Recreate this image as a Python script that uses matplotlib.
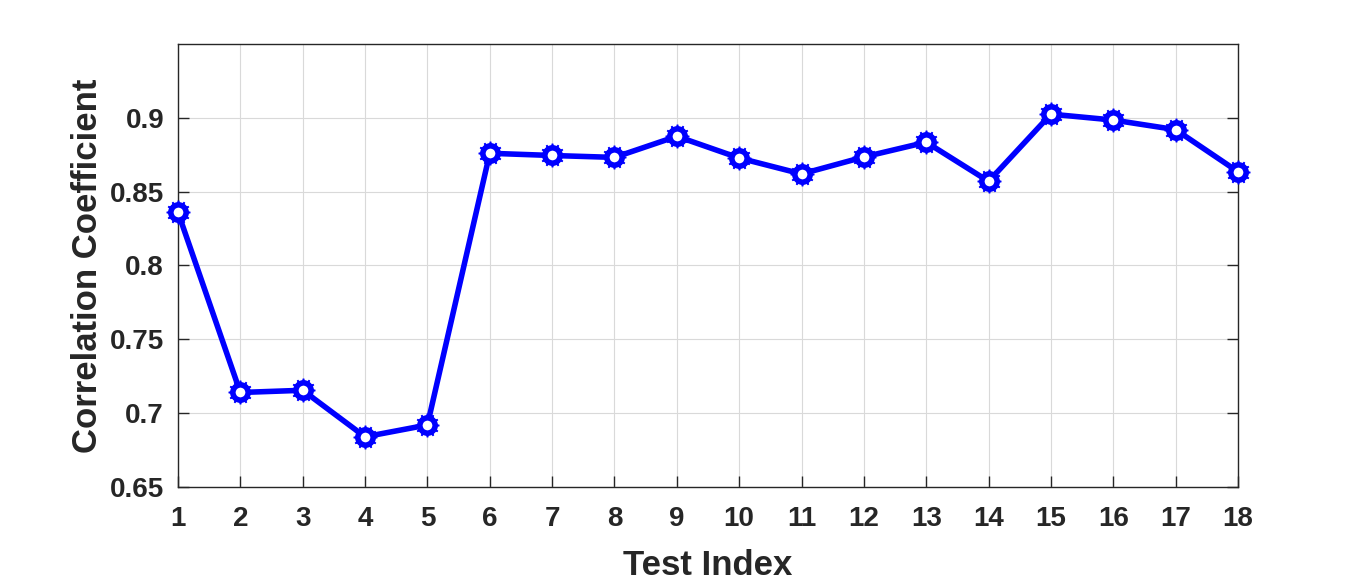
import matplotlib
matplotlib.use("Agg")
import matplotlib.pyplot as plt

test_index = list(range(1, 19))
corr = [0.836, 0.714, 0.7155, 0.684, 0.692, 0.876, 0.8745, 0.8732, 0.8875, 0.8728,
        0.862, 0.8735, 0.8835, 0.857, 0.9025, 0.8985, 0.892, 0.8635]
yticks = [0.65, 0.7, 0.75, 0.8, 0.85, 0.9]
ytick_labels = ["0.65", "0.7", "0.75", "0.8", "0.85", "0.9"]

plt.rcParams['font.family'] = ['Liberation Sans', 'DejaVu Sans']
plt.rcParams['font.weight'] = 'bold'

fig = plt.figure(figsize=(13.66, 5.82), dpi=100)
ax = fig.add_axes([178/1366, 1 - 487/582, (1238-178)/1366, (487-44)/582])

ax.plot(test_index, corr, color='#0000ff', linewidth=4, marker='o', markersize=11,
        markerfacecolor='white', markeredgecolor='#0000ff', markeredgewidth=4,
        zorder=3, clip_on=False)
ax.plot(test_index, corr, linestyle='none', marker=(12, 1, 0), markersize=17,
        markerfacecolor='none', markeredgecolor='#0000ff', markeredgewidth=1.2,
        zorder=4, clip_on=False)

ax.set_xlim(1, 18)
ax.set_ylim(0.65, 0.95)
ax.set_xticks(test_index)
ax.set_xticklabels([str(i) for i in test_index])
ax.set_yticks(yticks)
ax.set_yticklabels(ytick_labels)
ax.tick_params(axis='both', direction='in', labelsize=20, colors='#262626',
               length=8, width=1, top=False, right=True)
ax.tick_params(axis='x', pad=14)
ax.tick_params(axis='y', pad=10)
ax.grid(True, color='#d9d9d9', linewidth=0.8)
ax.set_axisbelow(True)
for s in ax.spines.values():
    s.set_color('#262626')
    s.set_linewidth(1)

ax.set_xlabel('Test Index', fontsize=25, fontweight='bold', color='#262626', labelpad=12)
ax.set_ylabel('Correlation Coefficient', fontsize=25, fontweight='bold', color='#262626', labelpad=4)

fig.savefig('out.png', dpi=100)
